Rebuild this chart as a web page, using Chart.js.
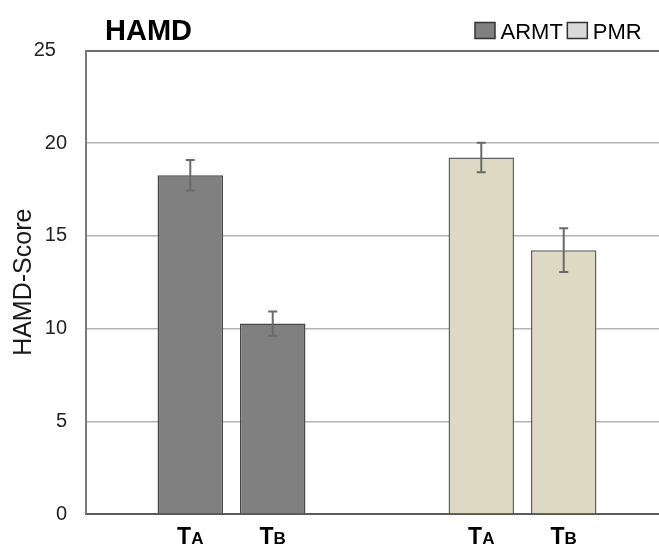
<!DOCTYPE html>
<html><head><meta charset="utf-8">
<script src="https://cdn.jsdelivr.net/npm/chart.js@4/dist/chart.umd.min.js"></script>
<style>
html,body{margin:0;padding:0;overflow:hidden;background:#fff;width:659px;height:550px}
#wrap{position:absolute;left:0;top:0;width:672px;height:550px}
</style>
</head><body><div id="wrap"><canvas id="c" width="672" height="550"></canvas></div>
<script>
// ---- data ----
const groups = ['ARMT', 'PMR'];
const timepoints = ['TA', 'TB'];
const armtMeans = [18.27, 10.27];
const armtErrors = [0.82, 0.65];
const pmrMeans = [19.23, 14.23];
const pmrErrors = [0.80, 1.18];
const chartTitle = 'HAMD';
const yAxisTitle = 'HAMD-Score';

// ---- styles ----
const FONT = 'Liberation Sans, Arial, sans-serif';
const groupFill = ['#808080', '#ddd9c3'];
const groupBorder = ['#474747', '#5f5f5f'];
const legendFill = ['#808080', '#d9d9d9'];

const meansByGroup = [armtMeans, pmrMeans];
const errorsByGroup = [armtErrors, pmrErrors];

const datasets = timepoints.map((tp, t) => ({
  label: tp,
  data: groups.map((g, gi) => meansByGroup[gi][t]),
  errors: groups.map((g, gi) => errorsByGroup[gi][t]),
  backgroundColor: groupFill,
  borderColor: groupBorder,
  borderWidth: 1.5,
  categoryPercentage: 0.5666,
  barPercentage: 0.794
}));

const errorBarPlugin = {
  id: 'errorBars',
  afterDatasetsDraw(chart) {
    const ctx = chart.ctx, ys = chart.scales.y;
    ctx.save();
    ctx.strokeStyle = '#6a6a6a';
    ctx.lineWidth = 2;
    chart.data.datasets.forEach((ds, di) => {
      chart.getDatasetMeta(di).data.forEach((el, i) => {
        const v = ds.data[i], e = ds.errors[i];
        const yt = ys.getPixelForValue(v + e), yb = ys.getPixelForValue(v - e);
        const x = el.x, cw = 4.5;
        ctx.beginPath();
        ctx.moveTo(x, yt); ctx.lineTo(x, yb);
        ctx.moveTo(x - cw, yt); ctx.lineTo(x + cw, yt);
        ctx.moveTo(x - cw, yb); ctx.lineTo(x + cw, yb);
        ctx.stroke();
      });
    });
    ctx.restore();
  }
};

const labelsPlugin = {
  id: 'barLabels',
  afterDraw(chart) {
    const ctx = chart.ctx;
    ctx.save();
    ctx.fillStyle = '#000';
    ctx.textBaseline = 'alphabetic';
    ctx.textAlign = 'left';
    // x labels under each bar: big first letter, small-cap suffix
    chart.data.datasets.forEach((ds, di) => {
      chart.getDatasetMeta(di).data.forEach((el) => {
        const main = ds.label.charAt(0), sub = ds.label.slice(1);
        ctx.font = 'bold 23px ' + FONT;
        const w1 = ctx.measureText(main).width;
        ctx.font = 'bold 17px ' + FONT;
        const w2 = ctx.measureText(sub).width;
        const x0 = el.x - (w1 + w2) / 2;
        ctx.font = 'bold 23px ' + FONT;
        ctx.fillText(main, x0, 544);
        ctx.font = 'bold 17px ' + FONT;
        ctx.fillText(sub, x0 + w1, 544);
      });
    });
    // title
    ctx.font = 'bold 29px ' + FONT;
    ctx.fillText(chartTitle, 105, 39.5);
    // legend
    ctx.font = '22px ' + FONT;
    let x = 475;
    groups.forEach((g, i) => {
      ctx.fillStyle = legendFill[i];
      ctx.fillRect(x, 22.5, 20, 16);
      ctx.strokeStyle = '#333';
      ctx.lineWidth = 1.5;
      ctx.strokeRect(x, 22.5, 20, 16);
      ctx.fillStyle = '#000';
      ctx.fillText(g, x + 25.5, 38.5);
      x += 25.5 + ctx.measureText(g).width + 4.5;
    });
    ctx.restore();
  }
};

new Chart(document.getElementById('c'), {
  type: 'bar',
  data: { labels: groups, datasets },
  options: {
    responsive: false,
    animation: false,
    layout: { padding: { top: 50.5, right: 4, left: 0, bottom: 0 } },
    plugins: { legend: { display: false }, title: { display: false }, tooltip: { enabled: false } },
    scales: {
      x: {
        type: 'category',
        ticks: { display: false },
        grid: { display: false, drawTicks: false },
        border: { display: true, color: '#5a5a5a', width: 2 },
        afterFit(s) { s.height = 36; }
      },
      y: {
        min: 0, max: 25,
        ticks: {
          stepSize: 5,
          padding: 19,
          color: '#222',
          font: { family: FONT, size: 20 },
          callback: (v) => v === 25 ? '25  ' : String(v)
        },
        grid: {
          drawTicks: false,
          color: (c) => c.tick && c.tick.value === 25 ? '#6e6e6e' : '#b3b3b3',
          lineWidth: (c) => c.tick && c.tick.value === 25 ? 2 : 1.5
        },
        border: { display: true, color: '#7a7a7a', width: 2 },
        title: {
          display: true, text: yAxisTitle, color: '#1a1a1a',
          font: { family: FONT, size: 25, lineHeight: 1.2 },
          padding: { top: 9, bottom: 0 }
        },
        afterFit(s) { s.width = 86; }
      }
    }
  },
  plugins: [errorBarPlugin, labelsPlugin]
});
</script>
</body></html>
